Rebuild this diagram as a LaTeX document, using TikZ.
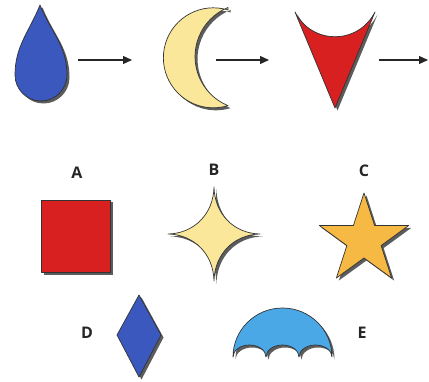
\documentclass[tikz,border=0pt]{standalone}
\usepackage{fontspec}
\setmainfont{Open Sans}
\usetikzlibrary{arrows.meta, shadows}

\definecolor{dropblue}{HTML}{3A58BE}
\definecolor{moonyellow}{HTML}{FAE79A}
\definecolor{veered}{HTML}{D82020}
\definecolor{staryellow}{HTML}{F6B944}
\definecolor{domeblue}{HTML}{4BA8E6}

\begin{document}
\begin{tikzpicture}[
  x=1pt, y=1pt,
  figure/.style={draw=black!80, line width=0.7pt, line join=round,
                 drop shadow={shadow xshift=2.5pt, shadow yshift=-2.5pt,
                              fill=black!75, opacity=0.85}},
  lbl/.style={font=\fontsize{16}{16}\selectfont\bfseries, text=black!85},
  arr/.style={-{Triangle[length=9pt, width=8pt]}, line width=1.2pt, draw=black!85}
]
  \useasboundingbox (0,0) rectangle (429,381);

  % top row
  \path[figure, fill=dropblue] (40,376) to[out=-112, in=90] (15,306)
    arc[start angle=180, end angle=360, radius=26] to[out=90, in=-68] (40,376) -- cycle;

  \path[figure, fill=moonyellow] (228,371)
    arc[start angle=73, end angle=287, radius=50]
    arc[start angle=247.8, end angle=112.2, radius=53] -- cycle;

  \path[figure, fill=veered] (295,369) .. controls (312,336) and (358,336) .. (375,369)
    -- (335,273) -- cycle;

  \coordinate (drop-r) at (78,321);
  \coordinate (moon-l) at (132,321);
  \coordinate (moon-r) at (216,321);
  \coordinate (vee-l)  at (269,321);
  \coordinate (vee-r)  at (379,321);
  \coordinate (next-l) at (428,321);

  \draw[arr] (drop-r) -- (moon-l);
  \draw[arr] (moon-r) -- (vee-l);
  \draw[arr] (vee-r) -- (next-l);

  % labelled shapes
  \node[lbl] (lblA) at (77,208) {A};
  \node[lbl] (lblB) at (214,211) {B};
  \node[lbl] (lblC) at (364,210) {C};
  \node[lbl] (lblD) at (87,48) {D};
  \node[lbl] (lblE) at (362,48) {E};

  \path[figure, fill=veered] (41,109) rectangle (110,181);

  \path[figure, fill=moonyellow, shift={(214,147)}]
    (-46,0) .. controls (-20,0.5) and (-0.5,20) .. (0,47)
    .. controls (0.5,20) and (20,0.5) .. (46,0)
    .. controls (20,-0.5) and (0.5,-20) .. (0,-47)
    .. controls (-0.5,-20) and (-20,-0.5) .. (-46,0) -- cycle;

  \path[figure, fill=staryellow, shift={(364,141)}]
    (90:47) \foreach \a in {0,72,...,288}{ -- (126+\a:18) -- (162+\a:47) } -- cycle;

  \path[figure, fill=dropblue] (139,86) -- (161,46) -- (139,4) -- (117,46) -- cycle;

  \path[figure, fill=domeblue] (233,24)
    arc[start angle=180, end angle=0, x radius=49.5pt, y radius=49pt]
    arc[start angle=0, end angle=180, x radius=16.5pt, y radius=12pt]
    arc[start angle=0, end angle=180, x radius=16.5pt, y radius=12pt]
    arc[start angle=0, end angle=180, x radius=16.5pt, y radius=12pt] -- cycle;
\end{tikzpicture}
\end{document}
